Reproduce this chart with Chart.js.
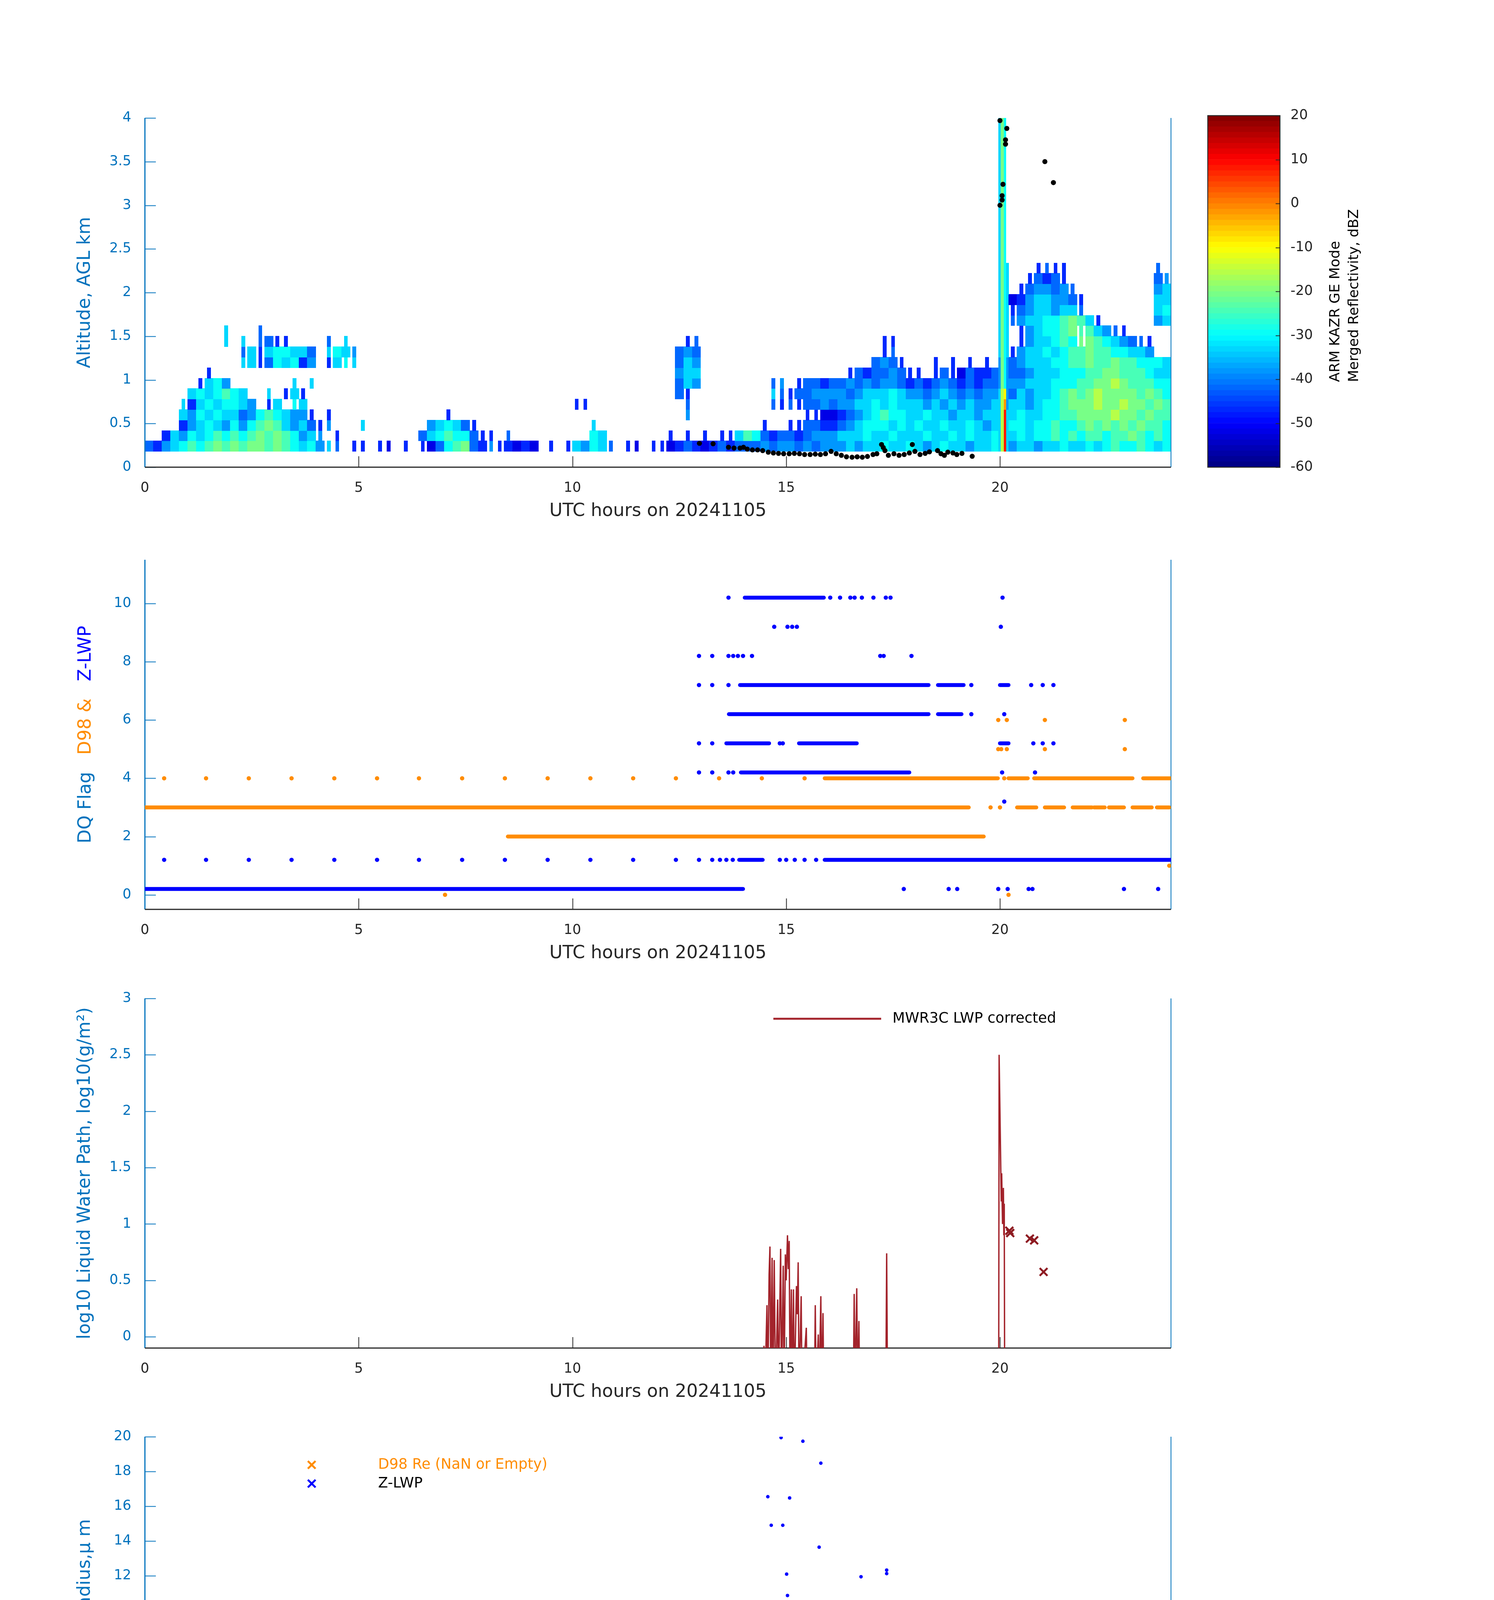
<!DOCTYPE html>
<html>
<head>
<meta charset="utf-8">
<title>KAZR / MWR3C retrievals 20241105</title>
<script src="https://cdn.jsdelivr.net/npm/chart.js@4.4.1/dist/chart.umd.min.js"></script>
<style>
  html, body { margin: 0; padding: 0; background: #fff; }
  #page { position: relative; width: 3825px; height: 7125px; background: #fff; overflow: hidden; }
  canvas { position: absolute; }
</style>
</head>
<body>
<div id="page"></div>
<script>
// ---------------- values ----------------
const hourTicks = [0, 5, 10, 15, 20];

// panel 1: reflectivity cells, 0.2 h wide, 0.12 km tall, one letter per cell
// '.' = no echo, lower case = filled cell, upper case = only a few profiles in the cell
const cellHours = 0.2;
const cellKm = 0.12;
const rowBaseKm = [0.18, 0.30, 0.42, 0.54, 0.66, 0.78, 0.90, 1.02, 1.14, 1.26, 1.38, 1.50, 1.62, 1.74, 1.86, 1.98, 2.10, 2.22];
const dbzCode = { a: -52, b: -47, c: -42, d: -38, e: -33, f: -29, g: -25, h: -21, i: -16, j: -10, k: -2, l: 8 };
const echoRows = [
  'cbdefgfghg hghhghgfef dEC.BB.BA. B.Bacfghcb DBbaba.B.B edfeC.BA.B Babcbabcbc ccdcddcdcd ddedeefeef edefeedeef edeedeefee fefgffgfef',
  '..bedfefgf gfghghgfde D.B....... ..cefgffcB B.C....... ..fe...... .B.B.B.BBe gfcbccbcdd deeefeefee efeefefeef eefeffgfgf ggfgghgfgf',
  '....bdefed fdfghgedec BD...E.... ...defecB. .......... ..E....... .......... ..B..BBccb bcdefffefe feefeefede effeffgffg hghghghggf',
  '....edfefe ecdfgfeddB .B........ .....B.... .......... .......... ...D...... .......BBa abcdefgffe efeedeedee eefeeffggh hhhihhghgg',
  '....Ebefef fed.Be.Fe. .......... .......... .......... BB........ ...C...... ...CBCBccd cddeefefee ededededde deedeffghh hihhihhghg',
  '.....efefg fe..E.BeB. .......... .......... .......... .......... ..cB...... ...ECBccdd ddcdeeefed dcdedcdcdd dcedeefghg hihhhhghgf',
  '......Befd .......E.E .......... .......... .......... .......... ..ced..... ...CD.Bccb ccdcdcddcb cbcdcbcbcc dddeeefffg ghhihgggff',
  '.......B.. .......... .......... .......... .......... .......... ..dee..... .......... ..BcbccdcB B.BcBacbbc dccdeeefff gghhgggfee',
  '.......... .EeBcfefbd .BeFE..... .......... .......... .......... ..ced..... .......... .....cdcB. ..B.B.B.B. dcdeeeffgg hgghggfffe',
  '.......... .CeBeffeec .EfeD..... .......... .......... .......... ..cdc..... .......... ......BC.. .......... eBdeefefgg hggffeed..',
  '.........E .E.CcBB... .C.E...... .......... .......... .......... ...BC..... .......... ......BB.. .......... e.BdeefgfH hgfedcCB..',
  '.........E ...C...... .......... .......... .......... .......... .......... .......... .......... .......... e.BdeffghG gedCB.....',
  '.......... .......... .......... .......... .......... .......... .......... .......... .......... .......... eCdeeffghg eB......de',
  '.......... .......... .......... .......... .......... .......... .......... .......... .......... .......... eBcdeedeeC ........ef',
  '.......... .......... .......... .......... .......... .......... .......... .......... .......... .......... eabdeeddcB ........ee',
  '.......... .......... .......... .......... .......... .......... .......... .......... .......... .......... e.BcddcdC. ........de',
  '.......... .......... .......... .......... .......... .......... .......... .......... .......... .......... e..BcbcB.. ........cD',
  '.......... .......... .......... .......... .......... .......... .......... .......... .......... .......... e...BCBB.. ........C.'
];
// the precipitation shaft near 20 UTC, cells from 0.18 km upward
const shaftFrom = [19.97, 20.02, 20.09];
const shaftTo = [20.02, 20.09, 20.14];
const shaftCells = [
  'eeeeeedddeeeeeeeeeeeeeeeeeeeeeee',
  'iiiiiihhhhhhhhhhhhhhhhhhhhhhhhhh',
  'llllkjffffffffffffffffffffffffff'
];
const cloudBaseHours = [12.97, 13.29, 13.65, 13.78, 13.92, 14.00, 14.09, 14.21, 14.33, 14.45, 14.58, 14.70, 14.82, 14.94, 15.07,
  15.19, 15.31, 15.43, 15.56, 15.68, 15.80, 15.92, 16.05, 16.17, 16.29, 16.41, 16.54, 16.66, 16.78, 16.90, 17.03, 17.12, 17.23,
  17.27, 17.31, 17.39, 17.52, 17.64, 17.76, 17.88, 17.95, 18.01, 18.13, 18.25, 18.35, 18.54, 18.62, 18.70, 18.78, 18.90, 18.99,
  19.11, 19.35, 20.00, 20.16, 20.13, 20.13, 20.07, 20.05, 20.05, 20.00, 21.05, 21.25];
const cloudBaseKm = [0.273, 0.268, 0.228, 0.219, 0.219, 0.228, 0.207, 0.198, 0.198, 0.190, 0.172, 0.163, 0.158, 0.154, 0.154,
  0.158, 0.154, 0.145, 0.145, 0.150, 0.145, 0.154, 0.181, 0.154, 0.136, 0.119, 0.114, 0.119, 0.114, 0.123, 0.145, 0.154, 0.260,
  0.225, 0.190, 0.136, 0.154, 0.136, 0.145, 0.163, 0.260, 0.181, 0.145, 0.158, 0.176, 0.190, 0.154, 0.136, 0.172, 0.163, 0.145,
  0.158, 0.125, 3.97, 3.88, 3.75, 3.70, 3.24, 3.11, 3.06, 3.00, 3.50, 3.26];
const altTicks = [0, 0.5, 1, 1.5, 2, 2.5, 3, 3.5, 4];
const dbzTicks = [-60, -50, -40, -30, -20, -10, 0, 10, 20];

// panel 2: quality flags (continuous runs + single samples)
const d98RunFlag = [4, 4, 4, 4, 3, 3, 3, 3, 3, 3, 3, 3, 2];
const d98RunFrom = [15.90, 20.20, 20.80, 23.35, 0.00, 20.40, 21.05, 21.70, 22.20, 22.55, 23.10, 23.67, 8.49];
const d98RunTo = [19.95, 20.65, 23.10, 24.00, 19.27, 20.85, 21.50, 22.15, 22.45, 22.90, 23.55, 23.96, 19.62];
const d98DotHours = [0.45, 1.43, 2.43, 3.43, 4.43, 5.43, 6.41, 7.42, 8.42, 9.42, 10.42, 11.42, 12.42, 13.43, 14.43, 15.43, 20.10,
  19.78, 20.00, 23.96, 7.02, 20.20, 19.96, 20.03, 20.16, 21.05, 22.92, 19.96, 20.16, 21.05, 22.92];
const d98DotFlag = [4, 4, 4, 4, 4, 4, 4, 4, 4, 4, 4, 4, 4, 4, 4, 4, 4,
  3, 3, 1, 0, 0, 5, 5, 5, 5, 5, 6, 6, 6, 6];
const zlwpRunFlag = [0.2, 1.2, 1.2, 4.2, 5.2, 5.2, 5.2, 6.2, 6.2, 7.2, 7.2, 7.2, 10.2];
const zlwpRunFrom = [0.00, 13.90, 15.90, 13.94, 13.60, 15.30, 20.00, 13.66, 18.55, 13.92, 18.55, 20.00, 14.03];
const zlwpRunTo = [13.99, 14.45, 24.00, 17.88, 14.60, 16.65, 20.20, 18.33, 19.10, 18.33, 19.15, 20.20, 15.88];
const zlwpDotHours = [
  17.75, 18.80, 19.00, 19.96, 20.18, 20.67, 20.76, 22.90, 23.70,
  0.45, 1.43, 2.43, 3.43, 4.43, 5.43, 6.41, 7.42, 8.42, 9.42, 10.42, 11.42, 12.42, 12.96, 13.27, 13.45, 13.60, 13.75, 14.85, 15.00, 15.20, 15.43, 15.70,
  20.10,
  12.96, 13.27, 13.65, 13.76, 20.05, 20.82,
  12.96, 13.27, 14.85, 14.92, 20.78, 21.00, 21.25,
  19.33, 20.10,
  12.96, 13.27, 13.65, 19.33, 20.73, 21.00, 21.25,
  12.96, 13.27, 13.65, 13.76, 13.87, 13.99, 14.20, 17.20, 17.28, 17.93,
  14.72, 15.03, 15.14, 15.25, 20.02,
  13.65, 16.03, 16.26, 16.50, 16.60, 16.77, 17.04, 17.33, 17.44, 20.06];
const zlwpDotFlag = [
  0.2, 0.2, 0.2, 0.2, 0.2, 0.2, 0.2, 0.2, 0.2,
  1.2, 1.2, 1.2, 1.2, 1.2, 1.2, 1.2, 1.2, 1.2, 1.2, 1.2, 1.2, 1.2, 1.2, 1.2, 1.2, 1.2, 1.2, 1.2, 1.2, 1.2, 1.2, 1.2,
  3.2,
  4.2, 4.2, 4.2, 4.2, 4.2, 4.2,
  5.2, 5.2, 5.2, 5.2, 5.2, 5.2, 5.2,
  6.2, 6.2,
  7.2, 7.2, 7.2, 7.2, 7.2, 7.2, 7.2,
  8.2, 8.2, 8.2, 8.2, 8.2, 8.2, 8.2, 8.2, 8.2, 8.2,
  9.2, 9.2, 9.2, 9.2, 9.2,
  10.2, 10.2, 10.2, 10.2, 10.2, 10.2, 10.2, 10.2, 10.2, 10.2];
const flagTicks = [0, 2, 4, 6, 8, 10];

// panel 3: log10 LWP (null = missing)
const lwpHours = [14.46, 14.48, 14.50, 14.55, 14.57, 14.60, 14.62, 14.64, 14.67, 14.69, 14.72, 14.75, 14.80, 14.82, 14.87, 14.89,
  14.93, 14.95, 14.98, 15.00, 15.03, 15.05, 15.07, 15.09, 15.12, 15.14, 15.17, 15.19, 15.24, 15.26, 15.28, 15.30, 15.35, 15.37,
  15.47, 15.49, null, 15.66, 15.68, 15.70, 15.75, 15.77, 15.81, 15.83, 15.86, 15.88, null, 16.57, 16.59, 16.61, 16.65, 16.67,
  16.70, 16.72, null, 17.33, 17.35, 17.37, null, 19.97, 19.98, 20.02, 20.03, 20.04, 20.06, 20.08, 20.09, 20.10, 20.11];
const lwpLog = [-0.5, -0.08, -0.5, 0.28, -0.5, 0.55, 0.80, -0.5, 0.70, -0.5, 0.68, -0.5, 0.33, -0.5, 0.78, -0.5,
  0.63, -0.5, 0.73, 0.50, 0.90, 0.60, 0.85, -0.5, 0.42, -0.5, 0.42, -0.5, 0.45, 0.20, 0.66, -0.5, 0.36, -0.5,
  0.08, -0.5, null, -0.5, 0.28, -0.5, 0.02, -0.5, 0.36, -0.5, 0.21, -0.5, null, -0.5, 0.38, -0.5, 0.43, -0.5,
  0.14, -0.5, null, -0.5, 0.74, -0.5, null, -0.5, 2.50, 1.46, 1.20, 1.45, 1.00, 1.32, 0.90, 1.18, -0.5];
const lwpMarkHours = [20.22, 20.24, 20.70, 20.80, 21.02];
const lwpMarkLog = [0.94, 0.92, 0.87, 0.855, 0.575];
const lwpTicks = [0, 0.5, 1, 1.5, 2, 2.5, 3];

// panel 4: effective radius (um)
const reHours = [13.99, 14.43, 14.57, 14.57, 14.65, 14.92, 14.45, 14.63, 14.77, 14.67, 14.72, 14.83, 14.88, 14.94, 14.99, 15.01,
  15.01, 15.03, 15.03, 15.06, 15.08, 15.12, 15.16, 15.19, 15.23, 15.25, 15.32, 15.39, 15.50, 15.68, 15.72, 15.77, 15.81, 15.84,
  15.88, 16.59, 16.75, 17.35, 17.35, 20.04, 20.00];
const reBlue = [6.30, 7.33, 7.40, 16.55, 14.91, 14.91, 6.17, 6.13, 6.12, 9.00, 4.66, 9.78, 19.95, 8.01, 10.10, 7.60,
  12.10, 10.87, 4.55, 3.55, 16.48, 5.94, 7.52, 9.76, 9.00, 4.61, 8.50, 19.74, 7.00, 6.70, 9.57, 13.65, 18.48, 7.36,
  10.37, 10.43, 11.95, 12.33, 12.13, 5.48, 2.45];
const reMarkHours = [20.00, 20.00];
const reMark = [6.20, 6.05];
const reD98Hours = [20.07, 20.13, 20.16, 20.18, 20.20, 21.05, 22.92, 22.92];
const reD98 = [5.90, 2.98, 2.00, 1.55, 1.52, 5.27, 4.74, 4.69];
const reTicks = [0, 2, 4, 6, 8, 10, 12, 14, 16, 18, 20];

// panel 5: droplet number (#/cc)
const ndHours = [15.06, 15.03, 14.74, 14.61, 15.14, 15.28, 14.77, 14.92, 14.65, 15.32, 15.01, 15.06, 15.19, 14.85, 15.68, 15.81,
  15.50, 14.43, 14.61, 14.94, 15.10, 17.35, 13.99, 13.65, 14.20, 14.30, 14.40, 14.50, 14.55, 14.70, 14.80, 14.88, 14.97, 15.12,
  15.22, 15.35, 15.42, 15.55, 15.60, 15.75, 15.90, 16.00, 16.30, 16.50, 16.60, 16.75, 17.10, 17.45, 17.50, 20.04, 20.09];
const ndBlue = [292, 71, 65.5, 46, 45.5, 48.4, 27, 25.4, 21.5, 16.6, 13.2, 11.7, 10, 10, 7.1, 7.1,
  5.6, 5.6, 5.1, 3.9, 5.1, 4.6, 2, 0.5, 0.3, 0.5, 0.8, 1.5, 0.4, 0.9, 1.2, 0.6, 0.3, 0.8,
  1.1, 0.5, 0.9, 0.4, 1.0, 0.7, 0.6, 0.3, 0.4, 0.8, 1.5, 0.3, 0.2, 1.3, 0.5, 160, 0.5];
const ndD98Hours = [20.13, 20.13, 20.09, 19.96, 21.05, 22.92];
const ndD98 = [205.6, 62.6, 6.4, 2.0, 5.6, 0.2];
const ndTicks = [0, 50, 100, 150, 200, 250, 300];

// panel 6: optical depth
const odHours = [20.00, 20.04, 20.09, 15.06, 14.70, 14.77, 14.88, 15.01, 15.10, 15.28, 17.35, 13.65, 14.00, 14.30, 14.45, 14.55,
  14.62, 14.82, 14.94, 15.15, 15.20, 15.40, 15.50, 15.62, 15.75, 15.85, 15.95, 16.30, 16.55, 16.65, 16.80, 17.10, 17.45];
const odBlue = [24.5, 7.85, 0.5, 3.5, 1.6, 1.4, 1.25, 1.6, 0.9, 1.3, 0.9, 0.1, 0.2, 0.3, 0.5, 0.7,
  1.1, 0.8, 0.9, 1.0, 0.6, 0.5, 0.4, 0.3, 0.6, 0.5, 0.4, 0.2, 0.3, 0.6, 0.4, 0.2, 0.3];
const odMarkHours = [20.00, 20.00, 20.01];
const odMark = [77.7, 78.3, 42.9];
const odD98Hours = [20.18, 20.18, 20.16, 20.13, 19.96, 20.11, 20.09, 21.05, 22.92];
const odD98 = [15.1, 14.7, 12.9, 9.9, 8.2, 7.2, 3.5, 1.25, 0.2];
const odTicks = [0, 10, 20, 30, 40, 50, 60, 70, 80];

// ---------------- styling ----------------
const FONT = '"DejaVu Sans", "Noto Sans", sans-serif';
const AXBLUE = '#0072BD';
const DARK = '#262626';
const ORANGE = '#FF8C00';
const ZBLUE = '#0000FF';
const LWPRED = '#A3232B';
const PAGE_W = 3825, PLOT_L = 371, PLOT_R = 2998, PAD_TOP = 50, XAXIS_H = 170;

Chart.defaults.font.family = FONT;

function jet(t) {
  const c = v => Math.round(255 * Math.max(0, Math.min(1, v)));
  return 'rgb(' + c(Math.min(4 * t - 1.5, -4 * t + 4.5)) + ',' + c(Math.min(4 * t - 0.5, -4 * t + 3.5)) + ',' +
    c(Math.min(4 * t + 0.5, -4 * t + 2.5)) + ')';
}
function dbzColor(d) {
  const lev = Math.max(0, Math.min(63, Math.floor((d + 60) / 1.25)));
  return jet((lev + 0.5) / 64);
}
const pts = (xs, ys) => xs.map((x, i) => ({ x: x, y: ys[i] }));
const fixedTicks = list => scale => { scale.ticks = list.map(v => ({ value: v })); };

function addCanvas(left, top, w, h) {
  const c = document.createElement('canvas');
  c.width = w; c.height = h;
  c.style.left = left + 'px'; c.style.top = top + 'px';
  c.style.width = w + 'px'; c.style.height = h + 'px';
  document.getElementById('page').appendChild(c);
  return c;
}

// reflectivity cells drawn through the chart scales
const echoPlugin = {
  id: 'echo',
  beforeDatasetsDraw(chart) {
    const { ctx, chartArea: a, scales: { x, y } } = chart;
    const cell = (t0, t1, z0, z1, ch) => {
      const code = ch.toLowerCase();
      if (!(code in dbzCode)) return;
      if (ch !== code) {           // sparse cell: a narrow stripe in the middle
        const mid = (t0 + t1) / 2, half = (t1 - t0) * 0.2;
        t0 = mid - half; t1 = mid + half;
      }
      const px0 = Math.floor(x.getPixelForValue(t0)), px1 = Math.ceil(x.getPixelForValue(t1));
      const py0 = Math.floor(y.getPixelForValue(z1)), py1 = Math.ceil(y.getPixelForValue(z0));
      ctx.fillStyle = dbzColor(dbzCode[code]);
      ctx.fillRect(px0, py0, px1 - px0, py1 - py0);
    };
    ctx.save();
    ctx.beginPath(); ctx.rect(a.left, a.top, a.right - a.left, a.bottom - a.top); ctx.clip();
    echoRows.forEach((row, r) => {
      const s = row.replace(/ /g, '');
      for (let c = 0; c < s.length; c++) cell(c * cellHours, (c + 1) * cellHours, rowBaseKm[r], rowBaseKm[r] + cellKm, s[c]);
    });
    shaftCells.forEach((col, k) => {
      for (let r = 0; r < col.length; r++) cell(shaftFrom[k], shaftTo[k], 0.18 + r * cellKm, 0.18 + (r + 1) * cellKm, col[r]);
    });
    ctx.restore();
  }
};

// MATLAB-like axes: inward ticks, blue left/right lines, dark bottom line
const axesPlugin = {
  id: 'matlabAxes',
  beforeDatasetsDraw(chart, args, o) {
    const { ctx, chartArea: a, scales: { x, y } } = chart;
    ctx.save();
    ctx.lineWidth = 2;
    ctx.strokeStyle = DARK;
    hourTicks.forEach(v => {
      if (v === 0) return;
      const px = Math.round(x.getPixelForValue(v)) + 0.5;
      ctx.beginPath(); ctx.moveTo(px, a.bottom); ctx.lineTo(px, a.bottom - 28); ctx.stroke();
    });
    ctx.strokeStyle = AXBLUE;
    o.yTicks.forEach(v => {
      const py = Math.round(y.getPixelForValue(v)) + 0.5;
      ctx.beginPath(); ctx.moveTo(a.left, py); ctx.lineTo(a.left + 28, py); ctx.stroke();
    });
    ctx.lineWidth = 3;
    ctx.beginPath(); ctx.moveTo(a.left, a.top); ctx.lineTo(a.left, a.bottom); ctx.stroke();
    ctx.lineWidth = 2;
    ctx.beginPath(); ctx.moveTo(a.right, a.top); ctx.lineTo(a.right, a.bottom); ctx.stroke();
    ctx.strokeStyle = DARK; ctx.lineWidth = 3;
    ctx.beginPath(); ctx.moveTo(a.left, a.bottom); ctx.lineTo(a.right, a.bottom); ctx.stroke();
    ctx.restore();
  }
};

function drawCross(ctx, cx, cy, r, color) {
  ctx.save();
  ctx.strokeStyle = color; ctx.lineWidth = 5; ctx.lineCap = 'butt';
  ctx.beginPath();
  ctx.moveTo(cx - r * 0.7, cy - r * 0.7); ctx.lineTo(cx + r * 0.7, cy + r * 0.7);
  ctx.moveTo(cx + r * 0.7, cy - r * 0.7); ctx.lineTo(cx - r * 0.7, cy + r * 0.7);
  ctx.stroke();
  ctx.restore();
}

// in-axes legend boxes without frame
const legendPlugin = {
  id: 'boxLegend',
  afterDatasetsDraw(chart, args, o) {
    if (!o || !o.items) return;
    const { ctx, chartArea: a } = chart;
    ctx.save();
    ctx.font = '37px ' + FONT;
    ctx.textAlign = 'left'; ctx.textBaseline = 'middle';
    o.items.forEach((it, i) => {
      const yy = a.top + o.rows[i];
      if (it.kind === 'line') {
        ctx.strokeStyle = it.color; ctx.lineWidth = 5;
        ctx.beginPath(); ctx.moveTo(a.left + o.lineFrom, yy); ctx.lineTo(a.left + o.lineTo, yy); ctx.stroke();
      } else {
        drawCross(ctx, a.left + o.markX, yy, 14, it.color);
      }
      ctx.fillStyle = it.textColor;
      ctx.fillText(it.text, a.left + o.textX, yy);
    });
    ctx.restore();
  }
};

// multi-coloured y label of panel 2
const splitTitlePlugin = {
  id: 'splitTitle',
  afterDraw(chart, args, o) {
    if (!o || !o.parts) return;
    const { ctx, chartArea: a } = chart;
    ctx.save();
    ctx.font = '46px ' + FONT;
    const widths = o.parts.map(p => ctx.measureText(p[0]).width);
    const total = widths.reduce((s, w) => s + w, 0);
    ctx.translate(o.x, (a.top + a.bottom) / 2 + total / 2);
    ctx.rotate(-Math.PI / 2);
    ctx.textAlign = 'left'; ctx.textBaseline = 'middle';
    let off = 0;
    o.parts.forEach((p, i) => { ctx.fillStyle = p[1]; ctx.fillText(p[0], off, 0); off += widths[i]; });
    ctx.restore();
  }
};

function panel(top, bottom, cfg) {
  const h = bottom - top + PAD_TOP + XAXIS_H;
  const canvas = addCanvas(0, top - PAD_TOP, PAGE_W, h);
  return new Chart(canvas, {
    type: 'scatter',
    data: { datasets: cfg.datasets },
    plugins: (cfg.plugins || []).concat([axesPlugin, legendPlugin, splitTitlePlugin]),
    options: {
      responsive: false,
      animation: false,
      devicePixelRatio: 1,
      events: [],
      layout: { padding: { left: 0, right: PAGE_W - PLOT_R, top: PAD_TOP, bottom: 0 } },
      plugins: {
        legend: { display: false },
        tooltip: { enabled: false },
        matlabAxes: { yTicks: cfg.yTicks },
        boxLegend: cfg.legend || {},
        splitTitle: cfg.splitTitle || {}
      },
      scales: {
        x: {
          type: 'linear', min: 0, max: 24,
          afterBuildTicks: fixedTicks(hourTicks),
          afterFit: s => { s.height = XAXIS_H; },
          grid: { display: false, drawTicks: false },
          border: { display: false },
          ticks: { color: DARK, font: { size: 35 }, padding: 33, maxRotation: 0, autoSkip: false, callback: v => String(v) },
          title: { display: true, text: 'UTC hours on 20241105', color: DARK, font: { size: 46 }, padding: { top: 0, bottom: 29 } }
        },
        y: {
          type: 'linear', min: cfg.yMin, max: cfg.yMax,
          afterBuildTicks: fixedTicks(cfg.yTicks),
          afterFit: s => { s.width = PLOT_L; },
          grid: { display: false, drawTicks: false },
          border: { display: false },
          ticks: { color: AXBLUE, font: { size: 35 }, padding: 35, autoSkip: false, callback: v => String(v) },
          title: { display: !!cfg.yTitle, text: cfg.yTitle || '', color: AXBLUE, font: { size: 46 }, padding: { top: 190, bottom: 0 } }
        }
      }
    }
  });
}

const dots = (xs, ys, color, r) => ({ data: pts(xs, ys), backgroundColor: color, borderWidth: 0, pointRadius: r, pointStyle: 'circle' });
const crosses = (xs, ys, color, r) => ({ data: pts(xs, ys), borderColor: color, backgroundColor: color, borderWidth: 5, pointRadius: r, pointStyle: 'crossRot' });
const runs = (flags, from, to, color) => flags.map((f, i) => ({
  data: [{ x: from[i], y: f }, { x: to[i], y: f }],
  showLine: true, borderColor: color, borderWidth: 10, borderCapStyle: 'round', pointRadius: 0
}));

// ---------- panel 1: reflectivity ----------
panel(296, 1196, {
  yMin: 0, yMax: 4, yTicks: altTicks, yTitle: 'Altitude, AGL km',
  plugins: [echoPlugin],
  datasets: [dots(cloudBaseHours, cloudBaseKm, '#000000', 6.5)]
});

// colour bar, its own small bar chart
(function () {
  const top = 296, bottom = 1196, left = 3091, barW = 187, w = PAGE_W - left;
  const canvas = addCanvas(left, top - PAD_TOP, w, bottom - top + 2 * PAD_TOP);
  const sets = [];
  for (let i = 0; i < 64; i++) {
    const lo = -60 + i * 1.25;
    sets.push({ data: [[lo, lo + 1.25]], backgroundColor: jet((i + 0.5) / 64), borderWidth: 0, grouped: false,
      barPercentage: 1, categoryPercentage: 1 });
  }
  new Chart(canvas, {
    type: 'bar',
    data: { labels: ['dBZ'], datasets: sets },
    plugins: [{
      id: 'cbFrame',
      afterDraw(chart) {
        const { ctx, chartArea: a, scales: { y } } = chart;
        ctx.save();
        ctx.strokeStyle = DARK; ctx.lineWidth = 2.5;
        ctx.strokeRect(a.left + 1, a.top, a.right - a.left - 2, a.bottom - a.top);
        ctx.lineWidth = 2;
        dbzTicks.forEach(v => {
          const py = Math.round(y.getPixelForValue(v)) + 0.5;
          ctx.beginPath(); ctx.moveTo(a.right, py); ctx.lineTo(a.right - 12, py); ctx.stroke();
        });
        ctx.fillStyle = '#000000';
        ctx.font = '36px ' + FONT;
        ctx.textAlign = 'left'; ctx.textBaseline = 'middle';
        [['ARM KAZR GE Mode', 329], ['Merged Reflectivity, dBZ', 377]].forEach(l => {
          ctx.save(); ctx.translate(l[1], 978 - (top - PAD_TOP)); ctx.rotate(-Math.PI / 2);
          ctx.fillText(l[0], 0, 0); ctx.restore();
        });
        ctx.restore();
      }
    }],
    options: {
      responsive: false, animation: false, devicePixelRatio: 1, events: [],
      layout: { padding: { left: 0, right: 0, top: PAD_TOP, bottom: PAD_TOP } },
      plugins: { legend: { display: false }, tooltip: { enabled: false } },
      scales: {
        x: { display: false },
        y: {
          position: 'right', min: -60, max: 20,
          afterBuildTicks: fixedTicks(dbzTicks),
          afterFit: s => { s.width = w - barW; },
          grid: { display: false, drawTicks: false }, border: { display: false },
          ticks: { color: DARK, font: { size: 35 }, padding: 26, autoSkip: false, callback: v => String(v) }
        }
      }
    }
  });
})();

// ---------- panel 2: quality flags ----------
panel(1427, 2328, {
  yMin: -0.5, yMax: 11.5, yTicks: flagTicks,
  splitTitle: { x: 220, parts: [['DQ Flag   ', AXBLUE], ['D98 &  ', ORANGE], [' Z-LWP', ZBLUE]] },
  datasets: [dots(zlwpDotHours, zlwpDotFlag, ZBLUE, 5.5)]
    .concat(runs(zlwpRunFlag, zlwpRunFrom, zlwpRunTo, ZBLUE))
    .concat([dots(d98DotHours, d98DotFlag, ORANGE, 5.5)])
    .concat(runs(d98RunFlag, d98RunFrom, d98RunTo, ORANGE))
});

// ---------- panel 3: LWP ----------
panel(2550, 3451, {
  yMin: -0.1, yMax: 3, yTicks: lwpTicks, yTitle: 'log10 Liquid Water Path, log10(g/m\u00B2)',
  legend: { items: [{ kind: 'line', color: LWPRED, textColor: '#000000', text: 'MWR3C LWP corrected' }],
    rows: [52], lineFrom: 1609, lineTo: 1885, textX: 1914 },
  datasets: [
    crosses(lwpMarkHours, lwpMarkLog, '#8E1B22', 14),
    { data: pts(lwpHours, lwpLog), showLine: true, spanGaps: false, borderColor: LWPRED, borderWidth: 3.5, pointRadius: 0, tension: 0 }
  ]
});

// ---------- panel 4: effective radius ----------
panel(3672, 4573, {
  yMin: -0.1, yMax: 20, yTicks: reTicks, yTitle: 'Effective Radius,\u03BC m',
  legend: { items: [
      { kind: 'x', color: ORANGE, textColor: ORANGE, text: 'D98 Re (NaN or Empty)' },
      { kind: 'x', color: ZBLUE, textColor: '#000000', text: 'Z-LWP' }],
    rows: [72, 120], markX: 427, textX: 597 },
  datasets: [crosses(reMarkHours, reMark, ZBLUE, 14), dots(reD98Hours, reD98, ORANGE, 4.5), dots(reHours, reBlue, ZBLUE, 4.5)]
});

// ---------- panel 5: droplet concentration ----------
panel(4796, 5698, {
  yMin: -0.7, yMax: 300, yTicks: ndTicks, yTitle: 'Droplet Concentration, #/cc',
  legend: { items: [
      { kind: 'x', color: ORANGE, textColor: ORANGE, text: 'D98 Nd (NaN or Empty)' },
      { kind: 'x', color: ZBLUE, textColor: '#000000', text: 'Z-LWP Nd' }],
    rows: [70, 119], markX: 427, textX: 597 },
  datasets: [dots(ndD98Hours, ndD98, ORANGE, 4.5), dots(ndHours, ndBlue, ZBLUE, 4.5)]
});

// ---------- panel 6: optical depth ----------
panel(5927, 6829, {
  yMin: -0.2, yMax: 81.8, yTicks: odTicks, yTitle: 'Optical Depth',
  legend: { items: [
      { kind: 'x', color: ORANGE, textColor: ORANGE, text: 'D98 OD (NaN or Empty)' },
      { kind: 'x', color: ZBLUE, textColor: '#000000', text: 'Z-LWP Nd' }],
    rows: [246, 296], markX: 1727, textX: 1892 },
  datasets: [crosses(odMarkHours, odMark, ZBLUE, 14), dots(odD98Hours, odD98, ORANGE, 4.5), dots(odHours, odBlue, ZBLUE, 4.5)]
});
</script>
</body>
</html>
